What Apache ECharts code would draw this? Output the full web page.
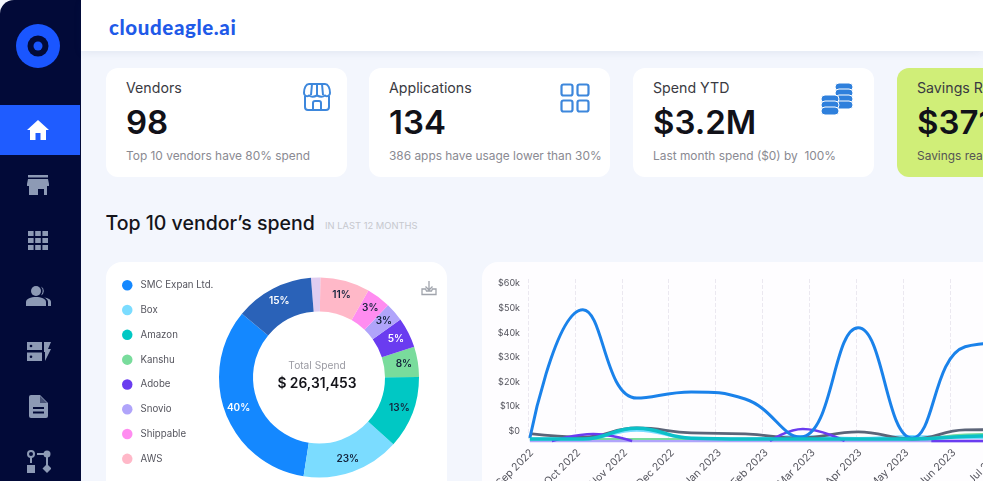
<!DOCTYPE html>
<html lang="en">
<head>
<meta charset="UTF-8">
<title>Top 10 vendor's spend</title>
<script src="https://cdn.jsdelivr.net/npm/echarts@6/dist/echarts.min.js"></script>
<style>
html,body{margin:0;padding:0;width:983px;height:481px;overflow:hidden;background:#f3f6fd;font-family:Inter,"Noto Sans",sans-serif;}
.abs,.side,.head,.card,.panel,.cht{position:absolute;}
.side{left:0;top:0;width:81px;height:481px;background:#020a38;border-radius:14px 0 0 0;}
.active{position:absolute;left:0;top:105px;width:80px;height:50px;background:#1f5cff;}
.side svg{position:absolute;}
.head{left:81px;top:0;width:902px;height:51px;background:#fff;box-shadow:0 2px 8px rgba(40,60,120,.08);}
.brand{position:absolute;left:28px;top:12px;font-family:Lato,sans-serif;font-weight:900;font-size:20.5px;letter-spacing:.6px;color:#1f5ae8;line-height:30px;}
.card{top:68px;width:241px;height:109px;background:#fff;border-radius:12px;}
.card .t{position:absolute;left:20px;top:11px;font-size:14.2px;color:#3a3a42;line-height:18px;}
.card .v{position:absolute;left:20px;top:32px;font-size:33px;font-weight:600;color:#111118;line-height:44px;}
.card .s{position:absolute;left:20px;top:80px;font-size:11.9px;color:#8a8a92;line-height:16px;white-space:nowrap;}
.card svg{position:absolute;}
.h2{position:absolute;left:105.500px;top:209px;font-size:19.500px;font-weight:500;color:#14141a;line-height:28px;white-space:nowrap;}
.h3{position:absolute;left:325px;top:220px;font-size:9.400px;color:#c6c8ce;line-height:12px;white-space:nowrap;}
.panel{top:262px;height:260px;background:#fff;border-radius:16px;}
.cht{top:262px;height:300px;}
</style>
</head>
<body>
<div class="side">
  <div class="active"></div>
  <svg style="left:16px;top:24px" width="44" height="44" viewBox="0 0 44 44"><circle cx="22" cy="22" r="22" fill="#1a56ff"/><circle cx="22" cy="22" r="10.5" fill="#020a38"/><circle cx="22" cy="22" r="4.5" fill="#1a56ff"/></svg>
  <svg style="left:27px;top:119px" width="22" height="22" viewBox="0 0 22 22"><path d="M11 1 L22 11 H19 V21 H13.5 V14 H8.5 V21 H3 V11 H0 Z" fill="#fff"/></svg>
  <svg style="left:27px;top:175px" width="22" height="20" viewBox="0 0 22 20"><path d="M1 0H21V2.5H1ZM1 4H21L22 9V11H0V9ZM2 11H20V20H17V14H11V20H2Z" fill="#8d9ab5"/></svg>
  <svg style="left:28px;top:231px" width="20" height="19" viewBox="0 0 20 19" fill="#8d9ab5"><rect width="5.6" height="5"/><rect x="7.2" width="5.6" height="5"/><rect x="14.4" width="5.6" height="5"/><rect y="7" width="5.6" height="5"/><rect x="7.2" y="7" width="5.6" height="5"/><rect x="14.4" y="7" width="5.6" height="5"/><rect y="14" width="5.6" height="5"/><rect x="7.2" y="14" width="5.6" height="5"/><rect x="14.4" y="14" width="5.6" height="5"/></svg>
  <svg style="left:26px;top:286px" width="26" height="20" viewBox="0 0 26 20" fill="#8d9ab5"><circle cx="10" cy="5" r="5"/><path d="M0 20V16C0 12.500 5 11 10 11S20 12.500 20 16V20Z"/><path d="M15 .5A5 5 0 0 1 15 9.500 7 7 0 0 0 15 .5ZM18 11.500C22 12 25 13.500 25 16V20H22V16C22 14 20.500 12.500 18 11.500Z"/></svg>
  <svg style="left:27px;top:342px" width="24" height="19" viewBox="0 0 24 19" fill="#8d9ab5"><path d="M0 0H15V8H0ZM0 10.500H15V19H0Z"/><path d="M17 0H24L21 7H24L18 19V10H17Z"/><circle cx="4" cy="4" r="1.300" fill="#020a38"/><circle cx="4" cy="14.700" r="1.300" fill="#020a38"/></svg>
  <svg style="left:29px;top:395px" width="19" height="23" viewBox="0 0 19 23" fill="#8d9ab5"><path d="M2 0H11L19 8V21A2 2 0 0 1 17 23H2A2 2 0 0 1 0 21V2A2 2 0 0 1 2 0Z"/><path d="M4 12H15V14H4ZM4 16.500H15V18.500H4Z" fill="#020a38"/><path d="M11 1V8H18" fill="#020a38" opacity=".5"/></svg>
  <svg style="left:27px;top:450px" width="24" height="23" viewBox="0 0 24 23" fill="#8d9ab5"><circle cx="4" cy="4" r="3" fill="none" stroke="#8d9ab5" stroke-width="2"/><rect x="3" y="7" width="2" height="6"/><rect y="15" width="8" height="8"/><circle cx="20" cy="4" r="3.500"/><rect x="10" y="3" width="7" height="2"/><rect x="19" y="7" width="2" height="8"/><path d="M20 14L24.500 18.500 20 23 15.500 18.500Z"/></svg>
</div>
<div class="head"><div class="brand">cloudeagle.ai</div></div>

<div class="card" style="left:106px">
  <div class="t">Vendors</div><div class="v">98</div><div class="s">Top 10 vendors have 80% spend</div>
  <svg style="left:197px;top:14px" width="28" height="30" viewBox="0 0 28 30" fill="none" stroke="#3d87dc" stroke-width="2"><path d="M6 2H22C25 2 27 6 27 11C27 14 24 15 22 13.500C20 15 17 15 14 13.500C11 15 8 15 6 13.500C4 15 1 14 1 11C1 6 3 2 6 2Z"/><path d="M9 2L8 13M14 2V13M19 2L20 13"/><path d="M2 14V25A3 3 0 0 0 5 28H23A3 3 0 0 0 26 25V14M10 28V21A2 2 0 0 1 12 19H16A2 2 0 0 1 18 21V28"/></svg>
</div>
<div class="card" style="left:369px">
  <div class="t">Applications</div><div class="v">134</div><div class="s">386 apps have usage lower than 30%</div>
  <svg style="left:191px;top:15px" width="30" height="30" viewBox="0 0 30 30" fill="none" stroke="#3d87dc" stroke-width="2.200"><rect x="1.500" y="1.500" width="11" height="11" rx="2"/><rect x="17.500" y="1.500" width="11" height="11" rx="2"/><rect x="1.500" y="17.500" width="11" height="11" rx="2"/><rect x="17.500" y="17.500" width="11" height="11" rx="2"/></svg>
</div>
<div class="card" style="left:633px">
  <div class="t">Spend YTD</div><div class="v">$3.2M</div><div class="s">Last month spend ($0) by &nbsp;100%</div>
  <svg style="left:188px;top:15px" width="33" height="33" viewBox="0 0 33 33" fill="#2f80dc" stroke="#fff" stroke-width="1"><rect x="14" y="0" width="18" height="8" rx="4"/><rect x="14" y="6" width="18" height="8" rx="4"/><rect x="14" y="12" width="18" height="8" rx="4"/><rect x="14" y="18" width="18" height="8" rx="4"/><rect x="0" y="12" width="18" height="8" rx="4"/><rect x="0" y="18" width="18" height="8" rx="4"/><rect x="0" y="24" width="18" height="8" rx="4"/></svg>
</div>
<div class="card" style="left:897px;background:#d0ee78">
  <div class="t">Savings Re</div><div class="v">$371</div><div class="s" style="color:#555">Savings rea</div>
</div>

<div class="h2">Top 10 vendor’s spend</div>
<div class="h3">IN LAST 12 MONTHS</div>

<div class="panel" style="left:106px;width:341px"></div>
<div class="panel" style="left:482px;width:560px;background:#fefdff"></div>
<div id="pie" class="cht" style="left:106px;width:341px"></div>
<svg class="abs" style="left:421px;top:280px" width="16" height="16" viewBox="0 0 16 16" fill="none" stroke="#a0a4ac" stroke-width="1.300"><path d="M8 1V10M4.500 6.500L8 10 11.500 6.500M1 9V14.500H15V9H11.500L10.500 11H5.500L4.500 9Z"/></svg>
<div id="line" class="cht" style="left:482px;width:600px"></div>

<script>
// donut
var vendors = ['SMC Expan Ltd.', 'Box', 'Amazon', 'Kanshu', 'Adobe', 'Snovio', 'Shippable', 'AWS', 'Other', 'Rest'];
var vendorColors = ['#1488ff', '#7bdcff', '#00c8c4', '#79dc9c', '#6a3cf0', '#b0a4fa', '#ff8cf0', '#ffb8c8', '#e0cdf0', '#2a62b8'];
var shareValues = [33.5, 15.8, 11.7, 4.9, 4.9, 3, 3.9, 8, 1.5, 12.7];
var shareLabels = ['40%', '23%', '13%', '8%', '5%', '3%', '3%', '11%', '', '15%'];
var labelColors = ['#fff', '#14233c', '#14233c', '#14233c', '#fff', '#14233c', '#14233c', '#14233c', '#fff', '#fff'];
var legendNames = vendors.slice(0, 8);

// trend lines, sampled along a month index axis
var months = ['Sep 2022', 'Oct 2022', 'Nov 2022', 'Dec 2022', 'Jan 2023', 'Feb 2023', 'Mar 2023', 'Apr 2023', 'May 2023', 'Jun 2023', 'Jul 2023'];
var yTickLabels = ['$0', '$10k', '$20k', '$30k', '$40k', '$50k', '$60k'];
var samples = [0.04, 1.17, 2.32, 3.48, 4.63, 5.8, 7.04, 8.19, 9.32, 10.47];
var smcSpend = [1200, 53500, 17500, 20000, 17100, 1600, 46100, 1200, 38400, 40400];
var greySpend = [3000, 1600, 5300, 3300, 2900, 1200, 3700, 800, 4500, 4700];
var boxSpend = [800, 800, 4400, 1100, 800, 1800, 1000, 1800, 1400, 2000];
var kanshuSpend = [800, 800, 800, 800, 800, 800, 800, 800, 2600, 3000];
var amazonSpend = [800, 800, 5200, 1100, 800, 800, 800, 800, 1800, 2500];
var adobeSamples = [0.51, 1.39, 2.22, null, 5.16, 5.86, 6.75, null, 8.6, 10.47];
var adobeSpend = [0, 2900, 0, null, 0, 4900, 0, null, 0, 0];
var snovioSpend = [0, 0, 0, 0, 0, 0, 0, 0, 0, 0];

function pts(vals, xs) {
    return vals.map(function (v, i) { return [xs[i], v]; });
}
function lineSeries(name, vals, xs, color, width) {
    return {
        name: name, type: 'line', data: pts(vals, xs), smooth: 0.45, showSymbol: false, clip: false,
        lineStyle: { color: color, width: width }, itemStyle: { color: color }
    };
}

var pieChart = echarts.init(document.getElementById('pie'));
pieChart.setOption({
    animation: false,
    title: {
        text: 'Total Spend', subtext: '$ 26,31,453',
        left: 206, top: 94, textAlign: 'center', itemGap: 6,
        textStyle: { fontSize: 10.2, fontWeight: 400, color: '#9a9aa2', fontFamily: 'Inter' },
        subtextStyle: { fontSize: 13.8, fontWeight: 600, color: '#14141a', fontFamily: 'Inter' }
    },
    legend: {
        data: legendNames, orient: 'vertical', left: 11, top: 13,
        icon: 'circle', itemWidth: 10.5, itemHeight: 10.5, itemGap: 14.3,
        textStyle: { fontSize: 9.7, color: '#55555e', fontFamily: 'Inter', padding: [0, 0, 0, 3] },
        selectedMode: false
    },
    series: [{
        type: 'pie', center: [213, 115.5], radius: [66, 100],
        startAngle: 140.4, clockwise: false, silent: true,
        itemStyle: { borderWidth: 0 },
        labelLine: { show: false },
        label: { position: 'inside', fontSize: 10, fontWeight: 600, fontFamily: 'Inter' },
        data: vendors.map(function (n, i) {
            return {
                name: n, value: shareValues[i],
                itemStyle: { color: vendorColors[i] },
                label: { formatter: shareLabels[i], color: labelColors[i] }
            };
        })
    }]
});

var lineChart = echarts.init(document.getElementById('line'));
lineChart.setOption({
    animation: false,
    grid: { left: 46, top: 17, width: 469, height: 162 },
    xAxis: {
        type: 'value', min: 0, max: 10, interval: 1,
        axisLine: { show: false }, axisTick: { show: false },
        splitLine: { show: true, lineStyle: { color: '#ebe8f0', type: 'dashed', width: 1 } },
        axisLabel: {
            rotate: 45, fontSize: 10.5, color: '#55555e', fontFamily: 'Inter', margin: 6,
            verticalAlign: 'top', hideOverlap: false,
            formatter: function (v) { return months[v]; }
        }
    },
    yAxis: {
        type: 'value', min: 0, max: 66000, interval: 10000,
        axisLine: { show: false }, axisTick: { show: false }, splitLine: { show: false },
        axisLabel: {
            fontSize: 9, color: '#55555e', fontFamily: 'Inter', margin: 8,
            verticalAlign: 'bottom', lineHeight: 20,
            formatter: function (v) { return yTickLabels[v / 10000] || ''; }
        }
    },
    series: [
        lineSeries('Snovio', snovioSpend, samples, '#b0a4fa', 2.5),
        lineSeries('Box', boxSpend, samples, '#7bdcff', 3),
        lineSeries('Other', greySpend, samples, '#5b6478', 2.8),
        lineSeries('Kanshu', kanshuSpend, samples, '#79dc9c', 2),
        lineSeries('Adobe', adobeSpend, adobeSamples, '#6a3cf0', 2.5),
        lineSeries('SMC Expan Ltd.', smcSpend, samples, '#1a82ea', 3),
        lineSeries('Amazon', amazonSpend, samples, '#0cc0c8', 3.5)
    ]
});
</script>
</body>
</html>
